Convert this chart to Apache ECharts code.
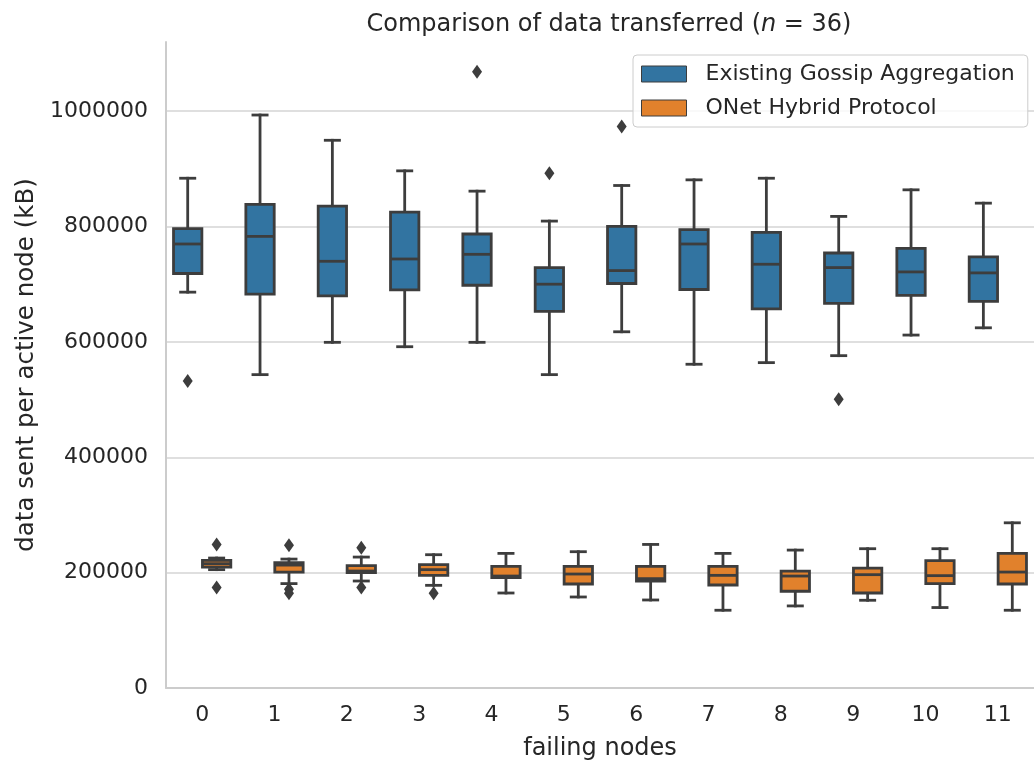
<!DOCTYPE html>
<html>
<head>
<meta charset="utf-8">
<script src="https://cdn.jsdelivr.net/npm/echarts@6/dist/echarts.min.js"></script>
<style>html,body{margin:0;padding:0;background:#fff}#c{width:1034px;height:766px}</style>
</head>
<body>
<div id="c"></div>
<script>
// ---- data ----
const categories = ['0','1','2','3','4','5','6','7','8','9','10','11'];
const seriesNames = ['Existing Gossip Aggregation', 'ONet Hybrid Protocol'];
// per category: [lower whisker, Q1, median, Q3, upper whisker]
const gossipStats = [
  [686300, 718600, 769800, 796400, 883800],
  [543300, 682800, 783000, 838400, 993400],
  [599300, 679900, 739800, 835500, 949600],
  [591700, 690300, 743800, 825100, 896600],
  [599300, 698300, 751900, 787100, 861400],
  [543300, 652900, 700100, 728900, 809500],
  [617600, 701300, 723700, 800300, 871200],
  [561300, 690900, 769800, 794600, 881000],
  [564100, 657400, 734700, 790000, 883800],
  [576200, 666700, 728900, 754200, 817600],
  [611900, 680600, 721400, 762300, 863700],
  [624500, 670200, 719700, 747300, 840600]
];
const onetStats = [
  [205200, 209700, 215500, 221300, 225300],
  [181000, 201000, 213100, 217200, 223500],
  [185500, 200000, 202800, 212100, 227000],
  [178000, 195300, 205200, 213800, 231100],
  [164700, 191400, 194100, 210900, 233400],
  [157800, 180300, 197600, 210900, 236300],
  [152600, 185500, 189600, 210900, 248900],
  [134800, 178600, 195300, 210900, 233400],
  [142300, 167700, 194100, 202800, 239100],
  [152100, 164700, 196500, 208000, 241500],
  [139500, 181000, 194800, 220700, 241500],
  [134800, 180300, 201000, 233400, 286400]
];
// [category index, value]
const gossipOutliers = [[0, 532400], [4, 1068300], [5, 892500], [6, 973700], [9, 500800]];
const onetOutliers = [[0, 248900], [0, 174100], [1, 247700], [1, 171100], [1, 164200], [2, 243200], [2, 174100], [3, 164200]];
const yMin = 0, yMax = 1120000, yInterval = 200000;

// ---- styles ----
const FONT = 'DejaVu Sans';
const TEXT = '#262626';
const LINE = '#3d3d3d';
const LW = 2.8;
const COLORS = ['#3274a1', '#e1812c'];
const OFFSETS = [-0.2, 0.2];

function boxRenderer(gi) {
  return function (params, api) {
    const i = api.value(0);
    const band = api.size([1, 0])[0];
    const cx = api.coord([i, 0])[0] + OFFSETS[gi] * band;
    const w = band * 0.392, capW = w / 2;
    const y = k => api.coord([i, api.value(k)])[1];
    const yLo = y(1), yQ1 = y(2), yMed = y(3), yQ3 = y(4), yHi = y(5);
    const ls = { stroke: LINE, lineWidth: LW, lineCap: 'square' };
    return {
      type: 'group',
      children: [
        { type: 'line', shape: { x1: cx, y1: yQ3, x2: cx, y2: yHi }, style: ls },
        { type: 'line', shape: { x1: cx, y1: yQ1, x2: cx, y2: yLo }, style: ls },
        { type: 'line', shape: { x1: cx - capW / 2, y1: yHi, x2: cx + capW / 2, y2: yHi }, style: ls },
        { type: 'line', shape: { x1: cx - capW / 2, y1: yLo, x2: cx + capW / 2, y2: yLo }, style: ls },
        { type: 'rect', shape: { x: cx - w / 2, y: yQ3, width: w, height: yQ1 - yQ3 },
          style: { fill: COLORS[gi], stroke: LINE, lineWidth: LW, lineJoin: 'miter' } },
        { type: 'line', shape: { x1: cx - w / 2, y1: yMed, x2: cx + w / 2, y2: yMed }, style: { stroke: LINE, lineWidth: LW, lineCap: 'butt' } }
      ]
    };
  };
}
function outlierRenderer(gi) {
  return function (params, api) {
    const i = api.value(0);
    const band = api.size([1, 0])[0];
    const p = api.coord([i, api.value(1)]);
    const cx = p[0] + OFFSETS[gi] * band, cy = p[1];
    return {
      type: 'polygon',
      shape: { points: [[cx, cy - 7], [cx + 5, cy], [cx, cy + 7], [cx - 5, cy]] },
      style: { fill: LINE }
    };
  };
}

const statsData = s => s.map((r, i) => [i].concat(r));

const chart = echarts.init(document.getElementById('c'), null, { renderer: 'canvas' });
chart.setOption({
  backgroundColor: '#ffffff',
  animation: false,
  textStyle: { fontFamily: FONT },
  title: {
    text: 'Comparison of data transferred ({i|n} = 36)',
    left: 604, top: 8, textAlign: 'center',
    textStyle: {
      fontFamily: FONT, fontSize: 24, fontWeight: 'normal', color: TEXT,
      rich: { i: { fontFamily: FONT, fontSize: 24, fontStyle: 'italic', color: TEXT } }
    }
  },
  legend: {
    orient: 'vertical', left: 633, top: 55,
    itemWidth: 45, itemHeight: 16, itemGap: 12,
    padding: [8, 13, 8, 8],
    backgroundColor: 'rgba(255,255,255,0.8)',
    borderColor: '#cccccc', borderWidth: 1, borderRadius: 4,
    selectedMode: false,
    textStyle: { fontFamily: FONT, fontSize: 22, color: TEXT, padding: [0, 0, 0, 14], lineHeight: 22 },
    data: seriesNames.map((n, k) => ({ name: n, icon: 'rect', itemStyle: { color: COLORS[k], borderColor: LINE, borderWidth: 1 } }))
  },
  grid: { left: 166, right: -8, top: 42, bottom: 77, containLabel: false },
  xAxis: {
    type: 'category', data: categories, boundaryGap: true,
    name: 'failing nodes', nameLocation: 'middle', nameGap: 49,
    nameTextStyle: { fontFamily: FONT, fontSize: 24, color: TEXT },
    axisLine: { show: true, lineStyle: { color: '#cccccc', width: 2 } },
    axisTick: { show: false },
    axisLabel: { fontFamily: FONT, fontSize: 22, color: TEXT, margin: 16 },
    splitLine: { show: false }
  },
  yAxis: {
    type: 'value', min: yMin, max: yMax, interval: yInterval,
    name: 'data sent per active node (kB)', nameLocation: 'middle', nameGap: 121,
    nameTextStyle: { fontFamily: FONT, fontSize: 24.5, color: TEXT },
    axisLine: { show: true, lineStyle: { color: '#cccccc', width: 2 } },
    axisTick: { show: false },
    axisLabel: { fontFamily: FONT, fontSize: 22, color: TEXT, margin: 18, showMaxLabel: false,
      formatter: v => String(v) },
    splitLine: { show: true, showMinLine: false, showMaxLine: false, lineStyle: { color: '#d5d5d5', width: 1.5 } }
  },
  series: [
    { name: seriesNames[0], type: 'custom', color: COLORS[0], renderItem: boxRenderer(0),
      encode: { x: 0, y: [1, 2, 3, 4, 5] }, data: statsData(gossipStats), z: 3 },
    { name: seriesNames[1], type: 'custom', color: COLORS[1], renderItem: boxRenderer(1),
      encode: { x: 0, y: [1, 2, 3, 4, 5] }, data: statsData(onetStats), z: 3 },
    { name: 'gossip outliers', type: 'custom', renderItem: outlierRenderer(0),
      encode: { x: 0, y: 1 }, data: gossipOutliers, z: 4 },
    { name: 'onet outliers', type: 'custom', renderItem: outlierRenderer(1),
      encode: { x: 0, y: 1 }, data: onetOutliers, z: 4 }
  ]
});
</script>
</body>
</html>
